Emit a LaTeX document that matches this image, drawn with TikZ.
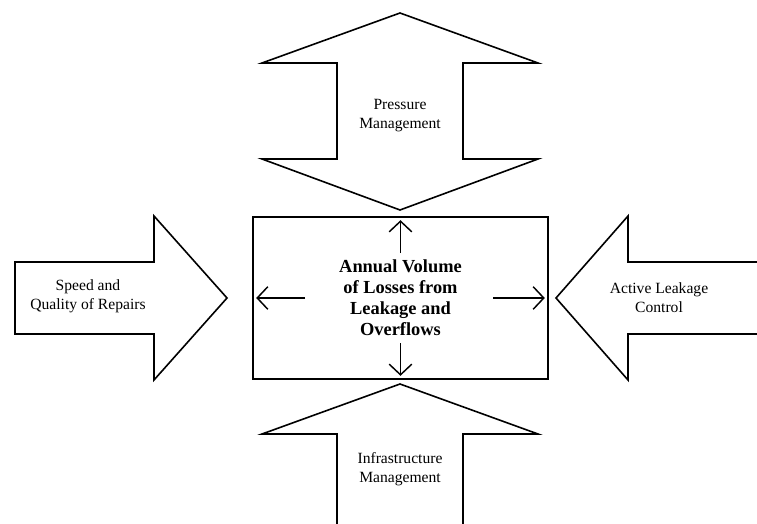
\documentclass[tikz,border=0pt]{standalone}
\usepackage{fontspec}
\setmainfont{Liberation Serif}
\usetikzlibrary{arrows.meta}

\begin{document}
\begin{tikzpicture}
        [%%%%%%%%%%%%%%%%%%%%%%%%%%%%%%
        x=0.75pt, y=-0.75pt,
        bigarrow/.style={draw=black, line width=1.2pt, line join=miter},
        label/.style={align=center, inner sep=0pt, font=\fontsize{11.7}{14.3}\selectfont},
        lossbox/.style={rectangle, draw=black, line width=1.2pt, align=center,
          minimum width=221.25pt, minimum height=121.5pt, inner sep=0pt,
          font=\bfseries\fontsize{13.8}{15.8}\selectfont},
        smallarrow/.style={-{Straight Barb[length=8pt, width=17pt, line width=1.1pt]},
          line width=1.1pt, shorten >=3pt},
        ]%%%%%%%%%%%%%%%%%%%%%%%%%%%%%%

        \useasboundingbox (0,0) rectangle (757,524);

        % big arrows
        \draw[bigarrow] (400,13) -- (538,63) -- (463,63) -- (463,159) -- (538,159)
          -- (400,210) -- (262,159) -- (337,159) -- (337,63) -- (262,63) -- cycle;
        \draw[bigarrow] (15,262) -- (154,262) -- (154,216) -- (227,298)
          -- (154,380) -- (154,334) -- (15,334) -- cycle;
        \draw[bigarrow] (757,262) -- (628,262) -- (628,216) -- (556,298)
          -- (628,380) -- (628,334) -- (757,334);
        \draw[bigarrow] (337,524) -- (337,434) -- (262,434) -- (400,384)
          -- (538,434) -- (463,434) -- (463,524);

        \node[label] (pressure) at (400,116) {Pressure\\Management};
        \node[label] (repairs) at (88,296) {Speed and\\Quality of Repairs};
        \node[label] (alc) at (659,298) {Active Leakage\\Control};
        \node[label] (infra) at (400,469) {Infrastructure\\Management};

        % centre box
        \node[lossbox] (losses) at (400.5,298)
          {Annual Volume\\of Losses from\\Leakage and\\Overflows};

        \coordinate (uptail) at (400.5,253);
        \coordinate (downtail) at (400.5,343);
        \coordinate (lefttail) at (305,298);
        \coordinate (righttail) at (493,298);
        \draw[smallarrow] (uptail) -- (losses.north);
        \draw[smallarrow] (downtail) -- (losses.south);
        \draw[smallarrow] (lefttail) -- (losses.west);
        \draw[smallarrow] (righttail) -- (losses.east);

      \end{tikzpicture}
\end{document}
